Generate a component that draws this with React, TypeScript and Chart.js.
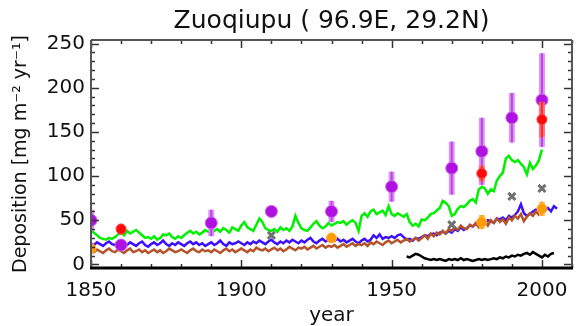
import React, { useEffect, useRef } from "react";
import { Chart, registerables } from "chart.js";

Chart.register(...registerables);

const TITLE = "Zuoqiupu ( 96.9E, 29.2N)";
const X_LABEL = "year";
const Y_LABEL = "Deposition [mg m⁻² yr⁻¹]";
const X_TICKS = [1850, 1900, 1950, 2000];
const Y_TICKS = [0, 50, 100, 150, 200, 250];
const X_MIN = 1850;
const X_MAX = 2010;
const Y_MIN = -4;
const Y_MAX = 254;

// annual series, starting year
const LINE_START = 1850;
const GREEN = [
  38, 36, 33, 30, 29, 28, 30, 29, 31, 34,
  36, 33, 38, 35, 37, 39, 36, 33, 30, 31,
  29, 32, 28, 30, 34, 33, 35, 31, 29, 32,
  30, 33, 36, 38, 35, 37, 34, 36, 39, 37,
  35, 38, 40, 37, 41, 39, 36, 42, 40, 38,
  44, 48, 42, 40, 38, 45, 52, 48, 41, 39,
  38, 40, 37, 42, 39, 41, 38, 43, 55, 47,
  41, 39, 38, 42, 46, 49, 44, 41, 43, 47,
  44, 46, 48, 47, 49, 45, 48, 50, 47, 38,
  55, 58, 54, 60, 62, 57, 59, 61, 56, 66,
  57, 55, 58, 56, 54, 57, 48, 44, 46, 43,
  51, 50, 53, 57, 58, 61, 64, 72, 70, 66,
  55, 57, 63, 66, 65, 68, 72, 74, 70, 85,
  88, 86, 80, 85, 83, 95, 100, 104, 120, 123,
  118, 116, 118, 114, 110, 102, 115, 108, 112, 118,
  130,
];
const BLUE = [
  24, 22, 25, 23, 21, 24, 26, 23, 22, 25,
  27, 24, 22, 25, 23, 21, 24, 26, 22, 20,
  23, 25, 22, 24, 27, 23, 21, 24, 22, 25,
  23, 21, 24, 26, 23, 25, 22, 24, 21, 23,
  25, 22, 24, 27, 23, 21, 25, 23, 24, 26,
  24, 22, 25, 23, 26, 24, 27, 25, 23, 26,
  28, 25, 23, 26, 24, 27, 25, 28, 26, 24,
  27, 25, 28, 30, 26, 24, 27, 29, 26, 28,
  28, 27, 29, 26, 28, 25, 27, 29, 26, 24,
  27, 29, 26, 28, 33, 30, 34, 29, 31, 30,
  32, 30, 33, 34, 31, 28, 29, 27, 30, 29,
  31, 33, 32, 34, 35, 33, 36, 37, 35, 38,
  36, 40, 38, 42, 39, 41, 44, 43, 46, 45,
  48, 46, 50, 49, 47, 52, 51, 53, 50, 55,
  53, 56, 60, 68, 58, 55, 57, 60, 62, 58,
  63, 61, 64, 60, 66, 63,
];
const BROWN = [
  16, 14, 17, 15, 13, 16, 18, 15, 14, 17,
  15, 13, 16, 18, 14, 15, 17, 14, 16, 13,
  15, 17, 14, 16, 13, 15, 18, 16, 14, 15,
  17, 15, 13, 16, 18, 15, 14, 17, 15, 16,
  14, 17, 15, 13, 16, 18, 15, 17, 14, 16,
  18, 16, 14, 17, 15, 19, 17, 16, 18, 15,
  17, 19, 16, 18, 15, 17, 20, 18, 16, 19,
  18, 20, 17, 19, 21, 18, 20, 22, 19, 21,
  20, 22, 19, 21, 23, 20, 22, 24, 21, 23,
  22, 24, 21, 25, 23, 26, 24, 22, 25, 27,
  24, 26, 28, 25, 27, 29, 26, 28, 30, 27,
  30, 33, 29, 35, 32, 36, 34, 38, 35, 40,
  38, 42, 39, 44, 41, 40, 45, 43, 47, 42,
  46, 49, 44, 50, 47, 52, 48, 51, 46, 53,
  50, 55, 52, 57, 49, 54, 58, 55, 60, 56,
  58,
];
const BLACK_START = 1955;
const BLACK = [
  9, 8, 10, 12, 11, 9, 7, 6, 5, 6,
  5, 6, 5, 4, 6, 5, 6, 5, 7, 5,
  6, 5, 4, 5, 6, 5, 6, 5, 6, 7,
  6, 8, 7, 9, 8, 10, 9, 11, 10, 12,
  13, 11, 14, 12, 10, 8, 11, 9, 12, 13,
];

// observations with error bars
const PURPLE_YEARS = [1850, 1860, 1890, 1910, 1930, 1950, 1970, 1980, 1990, 2000];
const PURPLE_VALUES = [50, 22, 47, 60, 60, 88, 109, 128, 166, 186];
const PURPLE_ERRORS = [12, 4, 15, 6, 12, 17, 30, 38, 28, 53];

const RED_YEARS = [1860, 1980, 2000];
const RED_VALUES = [40, 103, 164];
const RED_ERRORS = [6, 9, 20];

const ORANGE_YEARS = [1850, 1930, 1980, 2000];
const ORANGE_VALUES = [18, 30, 48, 63];
const ORANGE_ERRORS = [5, 5, 8, 8];

const GRAY_YEARS = [1910, 1970, 1990, 2000];
const GRAY_VALUES = [33, 45, 77, 86];

const FONT = "'DejaVu Sans', sans-serif";

const series = (start: number, vals: number[]) => vals.map((v, i) => ({ x: start + i, y: v }));
const points = (xs: number[], ys: number[]) => xs.map((x, i) => ({ x, y: ys[i] }));

const errorBarPlugin = {
  id: "errorBars",
  beforeDatasetDraw(chart: any, args: any) {
    const ds = chart.data.datasets[args.index];
    if (!ds.errors) return;
    const { ctx, chartArea, scales } = chart;
    const xs = scales.x;
    const ys = scales.y;
    ctx.save();
    ctx.beginPath();
    ctx.rect(chartArea.left, chartArea.top, chartArea.right - chartArea.left, chartArea.bottom - chartArea.top);
    ctx.clip();
    ds.data.forEach((p: any, i: number) => {
      const e = ds.errors[i];
      if (!e) return;
      const px = xs.getPixelForValue(p.x);
      const y1 = ys.getPixelForValue(p.y - e);
      const y2 = ys.getPixelForValue(p.y + e);
      ctx.lineCap = "butt";
      ctx.strokeStyle = ds.errorColor;
      ctx.lineWidth = 6;
      ctx.beginPath();
      ctx.moveTo(px, y1);
      ctx.lineTo(px, y2);
      ctx.stroke();
      ctx.strokeStyle = ds.errorCore;
      ctx.lineWidth = 2;
      ctx.beginPath();
      ctx.moveTo(px, y1);
      ctx.lineTo(px, y2);
      ctx.stroke();
    });
    ctx.restore();
  },
};

const framePlugin = {
  id: "frame",
  afterDatasetsDraw(chart: any) {
    const { ctx, chartArea, scales } = chart;
    const { left, right, top, bottom } = chartArea;
    const xs = scales.x;
    const ys = scales.y;
    const seg = (x1: number, y1: number, x2: number, y2: number) => {
      ctx.beginPath();
      ctx.moveTo(x1, y1);
      ctx.lineTo(x2, y2);
      ctx.stroke();
    };
    ctx.save();
    ctx.strokeStyle = "#333";
    ctx.lineWidth = 1.5;
    for (let v = X_MIN; v <= X_MAX; v += 10) {
      const px = Math.round(xs.getPixelForValue(v)) + 0.5;
      const len = v % 50 === 0 ? 8 : 4;
      seg(px, bottom, px, bottom - len);
      seg(px, top, px, top + len);
    }
    for (let v = 0; v <= Y_MAX; v += 10) {
      const py = Math.round(ys.getPixelForValue(v)) + 0.5;
      const len = v % 50 === 0 ? 8 : 4;
      seg(left, py, left + len, py);
      seg(right, py, right - len, py);
    }
    ctx.strokeStyle = "#555";
    ctx.lineWidth = 2;
    seg(left, top, right, top);
    seg(left, top, left, bottom);
    seg(right, top, right, bottom);
    ctx.strokeStyle = "#000";
    ctx.lineWidth = 3;
    seg(left - 1, bottom, right + 1, bottom);
    ctx.restore();
  },
};

export default function App() {
  const ref = useRef<HTMLCanvasElement | null>(null);

  useEffect(() => {
    if (!ref.current) return;
    const chart = new Chart(ref.current, {
      type: "line",
      data: {
        datasets: [
          {
            label: "red",
            data: points(RED_YEARS, RED_VALUES),
            errors: RED_ERRORS,
            errorColor: "rgba(255,110,110,0.85)",
            errorCore: "#ff2a2a",
            showLine: false,
            pointStyle: "circle",
            pointRadius: 5,
            pointBackgroundColor: "#ff0a0a",
            pointBorderColor: "#ff3b3b",
            pointBorderWidth: 1,
            clip: 0,
          } as any,
          {
            label: "gray",
            data: points(GRAY_YEARS, GRAY_VALUES),
            showLine: false,
            pointStyle: "crossRot",
            pointRadius: 5,
            pointBorderColor: "#707070",
            pointBorderWidth: 3,
            clip: 0,
          },
          {
            label: "orange",
            data: points(ORANGE_YEARS, ORANGE_VALUES),
            errors: ORANGE_ERRORS,
            errorColor: "rgba(255,185,80,0.9)",
            errorCore: "#ff9c00",
            showLine: false,
            pointStyle: "circle",
            pointRadius: 5,
            pointBackgroundColor: "#ff9c00",
            pointBorderColor: "#ffad33",
            pointBorderWidth: 1,
            clip: 0,
          } as any,
          {
            label: "purple",
            data: points(PURPLE_YEARS, PURPLE_VALUES),
            errors: PURPLE_ERRORS,
            errorColor: "rgba(214,140,240,0.9)",
            errorCore: "#c040e8",
            showLine: false,
            pointStyle: "circle",
            pointRadius: 6,
            pointBackgroundColor: "#b010e0",
            pointBorderColor: "#c860ec",
            pointBorderWidth: 1,
            clip: 0,
          } as any,
          {
            label: "black",
            data: series(BLACK_START, BLACK),
            borderColor: "#000",
            borderWidth: 2.5,
            pointRadius: 0,
          },
          {
            label: "brown",
            data: series(LINE_START, BROWN),
            borderColor: "#b5532a",
            borderWidth: 2.5,
            pointRadius: 0,
          },
          {
            label: "blue",
            data: series(LINE_START, BLUE),
            borderColor: "#3c10ff",
            borderWidth: 2.5,
            pointRadius: 0,
          },
          {
            label: "green",
            data: series(LINE_START, GREEN),
            borderColor: "#00f000",
            borderWidth: 2.5,
            pointRadius: 0,
          },
        ],
      },
      options: {
        responsive: false,
        animation: false,
        events: [],
        layout: { padding: { top: 0, right: 11, left: 0, bottom: 0 } },
        plugins: {
          legend: { display: false },
          tooltip: { enabled: false },
          title: {
            display: true,
            text: TITLE,
            fullSize: false,
            color: "#111",
            font: { family: FONT, size: 25, weight: "normal", lineHeight: 1.2 },
            padding: { top: 6, bottom: 4 },
          },
        },
        scales: {
          x: {
            type: "linear",
            min: X_MIN,
            max: X_MAX,
            grid: { display: false, drawTicks: false },
            border: { display: false },
            afterFit: (s: any) => {
              s.height = 58;
            },
            afterBuildTicks: (s: any) => {
              s.ticks = X_TICKS.map((v) => ({ value: v }));
            },
            ticks: {
              color: "#111",
              font: { family: FONT, size: 20 },
              padding: 11,
              maxRotation: 0,
              autoSkip: false,
              callback: (v: any) => String(v),
            },
            title: {
              display: true,
              text: X_LABEL,
              color: "#111",
              font: { family: FONT, size: 20, lineHeight: 1 },
              padding: { top: 0, bottom: 0 },
            },
          },
          y: {
            min: Y_MIN,
            max: Y_MAX,
            grid: { display: false, drawTicks: false },
            border: { display: false },
            afterFit: (s: any) => {
              s.width = 91;
            },
            afterBuildTicks: (s: any) => {
              s.ticks = Y_TICKS.map((v) => ({ value: v }));
            },
            ticks: {
              color: "#111",
              font: { family: FONT, size: 20 },
              padding: 6,
              autoSkip: false,
              callback: (v: any) => String(v),
            },
            title: {
              display: true,
              text: Y_LABEL,
              color: "#111",
              font: { family: FONT, size: 19, lineHeight: 1.2 },
              padding: { top: 10, bottom: 0 },
            },
          },
        },
      },
      plugins: [errorBarPlugin, framePlugin],
    } as any);
    return () => chart.destroy();
  }, []);

  return (
    <div style={{ position: "absolute", left: 0, top: 0, width: 583, height: 326 }}>
      <canvas ref={ref} width={583} height={326} style={{ display: "block" }} />
    </div>
  );
}
